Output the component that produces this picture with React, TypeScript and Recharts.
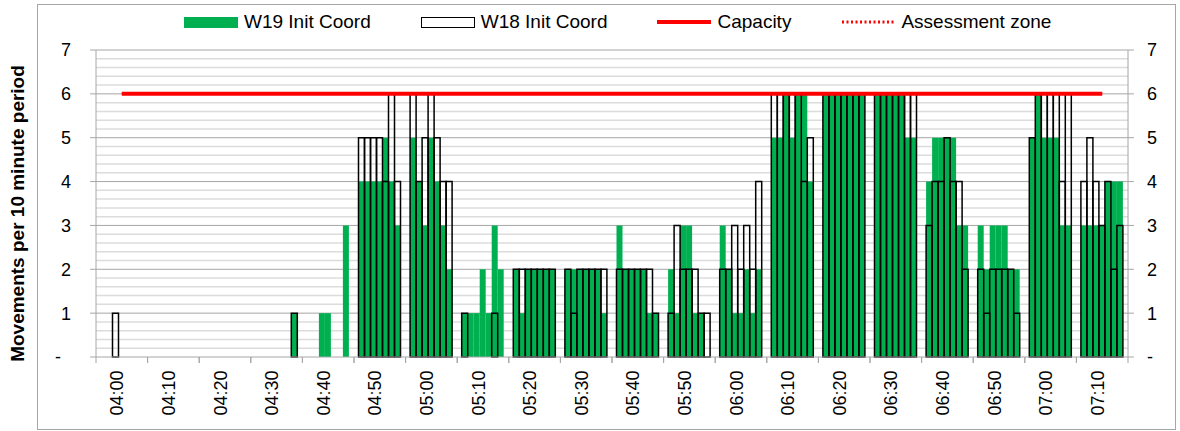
import { ComposedChart, Bar, Line, XAxis, YAxis, CartesianGrid } from 'recharts';

const times = [
  '04:00', '04:10', '04:20', '04:30', '04:40', '04:50', '05:00', '05:10', '05:20', '05:30',
  '05:40', '05:50', '06:00', '06:10', '06:20', '06:30', '06:40', '06:50', '07:00', '07:10',
];

// W19, one array per day of the week
const w19Day1 = [0, 0, 0, 0, 0, 4, 5, 1, 2, 2, 3, 2, 3, 5, 6, 6, 4, 3, 5, 3];
const w19Day2 = [0, 0, 0, 0, 0, 4, 4, 1, 1, 2, 2, 1, 2, 5, 6, 6, 5, 2, 6, 3];
const w19Day3 = [0, 0, 0, 0, 1, 4, 3, 1, 2, 2, 2, 3, 1, 6, 6, 6, 5, 3, 5, 3];
const w19Day4 = [0, 0, 0, 0, 1, 4, 5, 2, 2, 2, 2, 3, 1, 5, 6, 6, 5, 3, 5, 3];
const w19Day5 = [0, 0, 0, 0, 0, 5, 4, 1, 2, 2, 2, 1, 2, 6, 6, 6, 5, 3, 5, 4];
const w19Day6 = [0, 0, 0, 0, 0, 4, 3, 3, 2, 2, 1, 1, 1, 6, 6, 5, 3, 2, 3, 4];
const w19Day7 = [0, 0, 0, 1, 3, 3, 2, 2, 2, 1, 1, 0, 2, 4, 6, 5, 3, 2, 3, 4];

// W18, one array per day of the week
const w18Day1 = [0, 0, 0, 0, 0, 5, 6, 1, 2, 2, 2, 1, 2, 6, 6, 6, 3, 2, 5, 4];
const w18Day2 = [0, 0, 0, 0, 0, 5, 4, 0, 2, 1, 2, 3, 2, 6, 6, 6, 4, 1, 6, 5];
const w18Day3 = [1, 0, 0, 0, 0, 5, 5, 0, 2, 2, 2, 2, 3, 6, 6, 6, 4, 2, 6, 4];
const w18Day4 = [0, 0, 0, 0, 0, 5, 6, 0, 2, 2, 2, 2, 2, 6, 6, 6, 5, 2, 6, 3];
const w18Day5 = [0, 0, 0, 0, 0, 4, 5, 0, 2, 2, 2, 2, 3, 6, 6, 6, 4, 2, 6, 4];
const w18Day6 = [0, 0, 0, 0, 0, 6, 4, 1, 2, 2, 2, 1, 2, 4, 6, 6, 4, 2, 4, 2];
const w18Day7 = [0, 0, 0, 1, 0, 4, 4, 0, 2, 2, 1, 1, 4, 5, 6, 6, 2, 1, 6, 3];

const capacity = [6, 6, 6, 6, 6, 6, 6, 6, 6, 6, 6, 6, 6, 6, 6, 6, 6, 6, 6, 6];
const assessmentZone = [6, 6, 6, 6, 6, 6, 6, 6, 6, 6, 6, 6, 6, 6, 6, 6, 6, 6, 6, 6];

const yTicks = [0, 1, 2, 3, 4, 5, 6, 7];

const w19Days = [w19Day1, w19Day2, w19Day3, w19Day4, w19Day5, w19Day6, w19Day7];
const w18Days = [w18Day1, w18Day2, w18Day3, w18Day4, w18Day5, w18Day6, w18Day7];

const data = times.map((time, k) => {
  const row: Record<string, string | number> = {
    time,
    capacity: capacity[k],
    assessment: assessmentZone[k],
  };
  w19Days.forEach((arr, i) => (row[`w19d${i + 1}`] = arr[k]));
  w18Days.forEach((arr, i) => (row[`w18d${i + 1}`] = arr[k]));
  return row;
});

const FONT = '"Liberation Sans", Arial, sans-serif';
const AXIS_GREY = '#a6a6a6';

const minorLines = Array.from({ length: 35 }, (_, i) => i)
  .filter((i) => i % 5 !== 0)
  .map((i) => i / 5);
const majorLines = [1, 2, 3, 4, 5, 6, 7];

const yFormat = (v: number) => (v === 0 ? '-\u00a0\u00a0' : String(v));

function TimeTick(props: any) {
  const { x, y, payload } = props;
  const half = payload && payload.offset ? payload.offset : 25.75;
  const ty = y + 7.5;
  return (
    <g>
      <line x1={x - half} x2={x - half} y1={y - 6} y2={y} stroke={AXIS_GREY} />
      <line x1={x + half} x2={x + half} y1={y - 6} y2={y} stroke={AXIS_GREY} />
      <text
        x={x + 1.5}
        y={ty}
        transform={`rotate(-90 ${x + 1.5} ${ty})`}
        textAnchor="end"
        fontSize={18}
        fontFamily={FONT}
        fill="#000"
      >
        {payload.value}
      </text>
    </g>
  );
}

function YTitle(props: any) {
  const vb = props.viewBox || { x: 0, y: 50, height: 307 };
  const cx = vb.x + 17;
  const cy = vb.y + vb.height / 2 + 10;
  return (
    <text
      x={cx}
      y={cy}
      transform={`rotate(-90 ${cx} ${cy})`}
      textAnchor="middle"
      dominantBaseline="central"
      fontSize={19}
      fontWeight="bold"
      fontFamily={FONT}
      fill="#000"
    >
      Movements per 10 minute period
    </text>
  );
}

function LegendRow() {
  const item = { display: 'flex', alignItems: 'center', marginRight: 50 } as const;
  const label = { marginLeft: 6, fontSize: 19, color: '#000' } as const;
  return (
    <div
      style={{
        position: 'absolute',
        left: 184,
        top: 10,
        height: 24,
        display: 'flex',
        alignItems: 'center',
        fontFamily: FONT,
        whiteSpace: 'nowrap',
      }}
    >
      <div style={item}>
        <div style={{ width: 54, height: 11, background: '#00b050' }} />
        <span style={label}>W19 Init Coord</span>
      </div>
      <div style={item}>
        <div style={{ width: 52, height: 9, background: '#fff', border: '1px solid #000' }} />
        <span style={label}>W18 Init Coord</span>
      </div>
      <div style={item}>
        <svg width={54} height={10}>
          <line x1={0} x2={54} y1={5} y2={5} stroke="#ff0000" strokeWidth={4} />
        </svg>
        <span style={label}>Capacity</span>
      </div>
      <div style={item}>
        <svg width={54} height={10}>
          <line x1={1} x2={54} y1={5} y2={5} stroke="#ff0000" strokeWidth={3} strokeDasharray="2 2.5" />
        </svg>
        <span style={label}>Assessment zone</span>
      </div>
    </div>
  );
}

export default function App() {
  return (
    <div
      style={{
        position: 'absolute',
        left: 0,
        top: 0,
        width: 1180,
        height: 431,
        background: '#fff',
        fontFamily: FONT,
      }}
    >
      <div
        style={{
          position: 'absolute',
          left: 37,
          top: 4,
          width: 1137,
          height: 424,
          border: `1px solid ${AXIS_GREY}`,
        }}
      />
      <ComposedChart
        width={1180}
        height={431}
        data={data}
        margin={{ top: 50, right: 0, bottom: 0, left: 0 }}
        barGap={0}
        barCategoryGap={4.5}
        style={{ position: 'absolute', left: 0, top: 0 }}
      >
        <CartesianGrid
          xAxisId="w19"
          yAxisId="left"
          vertical={false}
          horizontalValues={minorLines}
          stroke="#dcdcdc"
          strokeWidth={1.5}
        />
        <CartesianGrid
          xAxisId="w19"
          yAxisId="left"
          vertical={false}
          horizontalValues={majorLines}
          stroke={AXIS_GREY}
        />
        <XAxis
          xAxisId="w19"
          dataKey="time"
          interval={0}
          height={74}
          tickSize={6}
          tickMargin={0}
          tickLine={false}
          axisLine={{ stroke: AXIS_GREY }}
          tick={<TimeTick />}
        />
        <XAxis xAxisId="w18" dataKey="time" height={0} hide />
        <YAxis
          yAxisId="left"
          width={96}
          domain={[0, 7]}
          ticks={yTicks}
          interval={0}
          tickSize={6}
          tickMargin={19}
          tickFormatter={yFormat}
          axisLine={{ stroke: AXIS_GREY }}
          tickLine={{ stroke: AXIS_GREY }}
          tick={{ fontSize: 18, fill: '#000', fontFamily: FONT }}
          label={<YTitle />}
        />
        <YAxis
          yAxisId="right"
          orientation="right"
          width={52}
          domain={[0, 7]}
          ticks={yTicks}
          interval={0}
          tickSize={6}
          tickMargin={13}
          tickFormatter={yFormat}
          axisLine={{ stroke: AXIS_GREY }}
          tickLine={{ stroke: AXIS_GREY }}
          tick={{ fontSize: 18, fill: '#000', fontFamily: FONT }}
        />
        {w19Days.map((_, i) => (
          <Bar
            key={`w19d${i + 1}`}
            dataKey={`w19d${i + 1}`}
            name="W19 Init Coord"
            xAxisId="w19"
            yAxisId="left"
            fill="#00b050"
            isAnimationActive={false}
          />
        ))}
        {w18Days.map((_, i) => (
          <Bar
            key={`w18d${i + 1}`}
            dataKey={`w18d${i + 1}`}
            name="W18 Init Coord"
            xAxisId="w18"
            yAxisId="right"
            fill="none"
            stroke="#000"
            strokeWidth={1.5}
            isAnimationActive={false}
          />
        ))}
        <Line
          dataKey="capacity"
          name="Capacity"
          xAxisId="w19"
          yAxisId="left"
          stroke="#ff0000"
          strokeWidth={4}
          dot={false}
          isAnimationActive={false}
        />
        <Line
          dataKey="assessment"
          name="Assessment zone"
          xAxisId="w19"
          yAxisId="left"
          stroke="#ff0000"
          strokeWidth={2}
          strokeDasharray="2 2"
          dot={false}
          isAnimationActive={false}
        />
      </ComposedChart>
      <LegendRow />
    </div>
  );
}
